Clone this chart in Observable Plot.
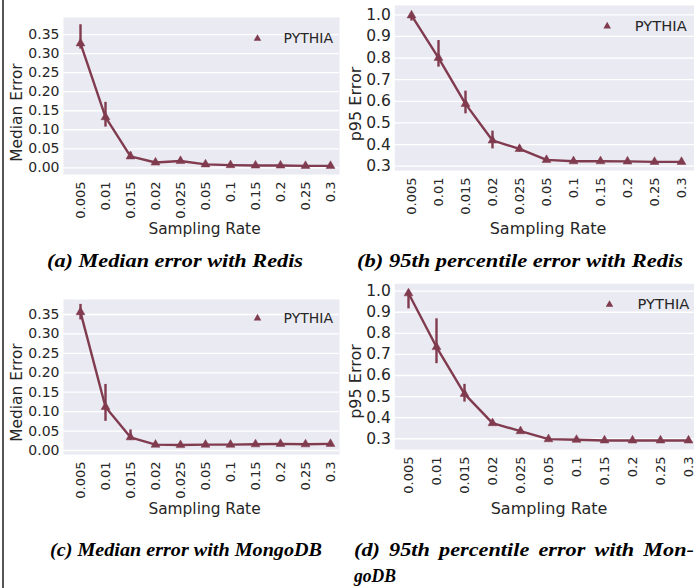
<!DOCTYPE html>
<html>
<head>
<meta charset="utf-8">
<script src="https://cdn.jsdelivr.net/npm/d3@7"></script>
<script src="https://cdn.jsdelivr.net/npm/@observablehq/plot@0.6"></script>
<style>
  html, body { margin: 0; padding: 0; background: #fff; }
  #page { position: relative; width: 694px; height: 588px; overflow: hidden; }
  .panel { position: absolute; }
  .cap { position: absolute; font-family: "Liberation Serif", "DejaVu Serif", serif; font-style: italic; font-weight: bold; font-size: 18px; line-height: 18px; color: #000; white-space: nowrap; transform-origin: 0 50%; }
  #vline { position: absolute; left: 2px; top: 0; width: 1.5px; height: 588px; background: #555; }
</style>
</head>
<body>
<div id="page">
  <div id="vline"></div>
</div>
<script>
const rates = ["0.005","0.01","0.015","0.02","0.025","0.05","0.1","0.15","0.2","0.25","0.3"];

const redisMedian   = [0.327,0.133,0.030,0.014,0.018,0.009,0.007,0.006,0.006,0.005,0.005];
const redisMedianLo = [0.312,0.107,0.022,0.012,0.016,0.008,0.006,0.005,0.005,0.004,0.004];
const redisMedianHi = [0.376,0.172,0.041,0.016,0.020,0.010,0.008,0.007,0.007,0.006,0.006];

const redisP95   = [0.997,0.801,0.588,0.419,0.380,0.329,0.323,0.323,0.322,0.320,0.320];
const redisP95Lo = [0.971,0.758,0.542,0.380,0.365,0.324,0.320,0.320,0.319,0.317,0.317];
const redisP95Hi = [1.008,0.881,0.647,0.462,0.395,0.334,0.326,0.326,0.325,0.323,0.323];

const mongoMedian   = [0.356,0.112,0.034,0.015,0.014,0.015,0.015,0.016,0.017,0.016,0.017];
const mongoMedianLo = [0.336,0.075,0.026,0.013,0.012,0.013,0.013,0.014,0.015,0.014,0.015];
const mongoMedianHi = [0.376,0.170,0.053,0.017,0.016,0.017,0.017,0.018,0.019,0.018,0.019];

const mongoP95   = [0.990,0.735,0.513,0.374,0.336,0.298,0.295,0.292,0.292,0.292,0.292];
const mongoP95Lo = [0.916,0.656,0.474,0.363,0.330,0.295,0.292,0.289,0.289,0.289,0.289];
const mongoP95Hi = [1.003,0.869,0.558,0.387,0.342,0.301,0.298,0.295,0.295,0.295,0.295];

const medianTicks = [0,0.05,0.10,0.15,0.20,0.25,0.30,0.35];
const p95Ticks = [0.3,0.4,0.5,0.6,0.7,0.8,0.9,1.0];

const seriesName = "PYTHIA";
const captions = [
  "(a) Median error with Redis",
  "(b) 95th percentile error with Redis",
  "(c) Median error with MongoDB"
];
const captionD1 = ["(d)", "95th", "percentile", "error", "with", "Mon-"];
const captionD2 = "goDB";

const COLOR = "#803b4f";
const TEXT = "#262626";
const BG = "#eaeaf2";
const FONT = "'DejaVu Sans', sans-serif";

function rows(vals, lo, hi) {
  return rates.map((r, i) => ({rate: r, v: vals[i], lo: lo[i], hi: hi[i]}));
}

function panel(cfg) {
  const data = rows(cfg.vals, cfg.lo, cfg.hi);
  const W = cfg.width, H = 240;
  const L = cfg.ml, T = cfg.mt;
  const svg = Plot.plot({
    width: W, height: H,
    marginLeft: cfg.ml, marginRight: cfg.mr, marginTop: cfg.mt, marginBottom: cfg.mb,
    style: {fontFamily: FONT, color: TEXT, background: "transparent", overflow: "visible"},
    x: {type: "point", domain: rates, padding: 0, insetLeft: cfg.insL, insetRight: cfg.insR},
    y: {domain: cfg.ydom, ticks: cfg.ticks},
    marks: [
      Plot.frame({fill: BG, stroke: null}),
      Plot.gridY(cfg.ticks, {stroke: "#fff", strokeOpacity: 1, strokeWidth: 1.3}),
      Plot.axisY(cfg.ticks, {tickSize: 0, tickPadding: 4, tickFormat: cfg.fmt, fontSize: cfg.yfs, label: null}),
      Plot.axisX({tickSize: 0, tickPadding: 7, tickRotate: -90, fontSize: 13, label: null}),
      Plot.ruleX(data, {x: "rate", y1: "lo", y2: "hi", stroke: COLOR, strokeWidth: 2.4}),
      Plot.line(data, {x: "rate", y: "v", stroke: COLOR, strokeWidth: 2.4}),
      Plot.dot(data, {x: "rate", y: "v", symbol: "triangle", r: 3.3, fill: COLOR, stroke: COLOR, strokeWidth: 0.5}),
      Plot.dot([seriesName], {frameAnchor: "top-left", dx: cfg.legDx, dy: cfg.legDy, symbol: "triangle", r: 2.8, fill: COLOR}),
      Plot.text([seriesName], {frameAnchor: "top-left", dx: cfg.legTx, dy: cfg.legDy, text: d => d, textAnchor: "start", lineAnchor: "middle", fontSize: cfg.legFs, fill: TEXT}),
      Plot.text([cfg.ylabel], {frameAnchor: "top-left", dx: cfg.ylx - L, dy: cfg.yly - T, rotate: -90, text: d => d, textAnchor: "middle", lineAnchor: "middle", fontSize: cfg.labFs, fill: TEXT}),
      Plot.text(["Sampling Rate"], {frameAnchor: "top-left", dx: cfg.xlx - L, dy: cfg.xly - T, text: d => d, textAnchor: "middle", lineAnchor: "middle", fontSize: cfg.labFs, fill: TEXT})
    ]
  });
  const wrap = document.createElement("div");
  wrap.className = "panel";
  wrap.style.left = cfg.left + "px";
  wrap.style.top = cfg.top + "px";
  wrap.appendChild(svg);
  document.getElementById("page").appendChild(wrap);
}

const fmt2 = d3.format(".2f");
const fmt1 = d3.format(".1f");

// (a)
panel({left: 0, top: 0, width: 345, ml: 63, mr: 6, mt: 17, mb: 66,
  vals: redisMedian, lo: redisMedianLo, hi: redisMedianHi,
  ydom: [-0.0176, 0.395], ticks: medianTicks, fmt: fmt2, yfs: 14,
  insL: 14, insR: 6,
  legDx: 194, legDy: 21, legTx: 220, legFs: 14,
  ylabel: "Median Error", ylx: 17, yly: 112, xlx: 204, xly: 229, labFs: 15.4});
// (b)
panel({left: 345, top: 0, width: 349, ml: 49.3, mr: 0, mt: 5, mb: 70,
  vals: redisP95, lo: redisP95Lo, hi: redisP95Hi,
  ydom: [0.28, 1.043], ticks: p95Ticks, fmt: fmt1, yfs: 15.5,
  insL: 13, insR: 8.3,
  legDx: 212.4, legDy: 20.7, legTx: 240, legFs: 14.7,
  ylabel: "p95 Error", ylx: 10, yly: 103.5, xlx: 202.5, xly: 228, labFs: 16});
// (c)
panel({left: 0, top: 280, width: 345, ml: 63, mr: 6, mt: 19, mb: 66,
  vals: mongoMedian, lo: mongoMedianLo, hi: mongoMedianHi,
  ydom: [-0.0103, 0.3886], ticks: medianTicks, fmt: fmt2, yfs: 14,
  insL: 14, insR: 6,
  legDx: 194, legDy: 18.7, legTx: 220, legFs: 14,
  ylabel: "Median Error", ylx: 17, yly: 112, xlx: 204, xly: 229, labFs: 15.4});
// (d)
panel({left: 345, top: 280, width: 349, ml: 49.3, mr: 0, mt: 3.3, mb: 71,
  vals: mongoP95, lo: mongoP95Lo, hi: mongoP95Hi,
  ydom: [0.249, 1.035], ticks: p95Ticks, fmt: fmt1, yfs: 15.5,
  insL: 13, insR: 4.7,
  legDx: 214.7, legDy: 20.7, legTx: 242.7, legFs: 14.7,
  ylabel: "p95 Error", ylx: 10, yly: 101, xlx: 203.5, xly: 228, labFs: 16});

// captions
const page = document.getElementById("page");
function cap(text, left, top, target) {
  const d = document.createElement("div");
  d.className = "cap";
  d.textContent = text;
  d.style.left = left + "px";
  d.style.top = top + "px";
  page.appendChild(d);
  const w = d.getBoundingClientRect().width;
  d.style.transform = `scaleX(${target / w})`;
  return target / w;
}
const s = cap(captions[0], 47, 252, 256);
cap(captions[1], 357, 252, 326);
cap(captions[2], 50, 541, 272);
const dl = document.createElement("div");
dl.className = "cap";
dl.style.left = "354px"; dl.style.top = "541px"; dl.style.width = (340 / s) + "px";
dl.style.display = "flex"; dl.style.justifyContent = "space-between";
dl.style.transform = `scaleX(${s})`;
captionD1.forEach(w => { const sp = document.createElement("span"); sp.textContent = w; dl.appendChild(sp); });
page.appendChild(dl);
cap(captionD2, 354, 567, 42);
</script>
</body>
</html>
